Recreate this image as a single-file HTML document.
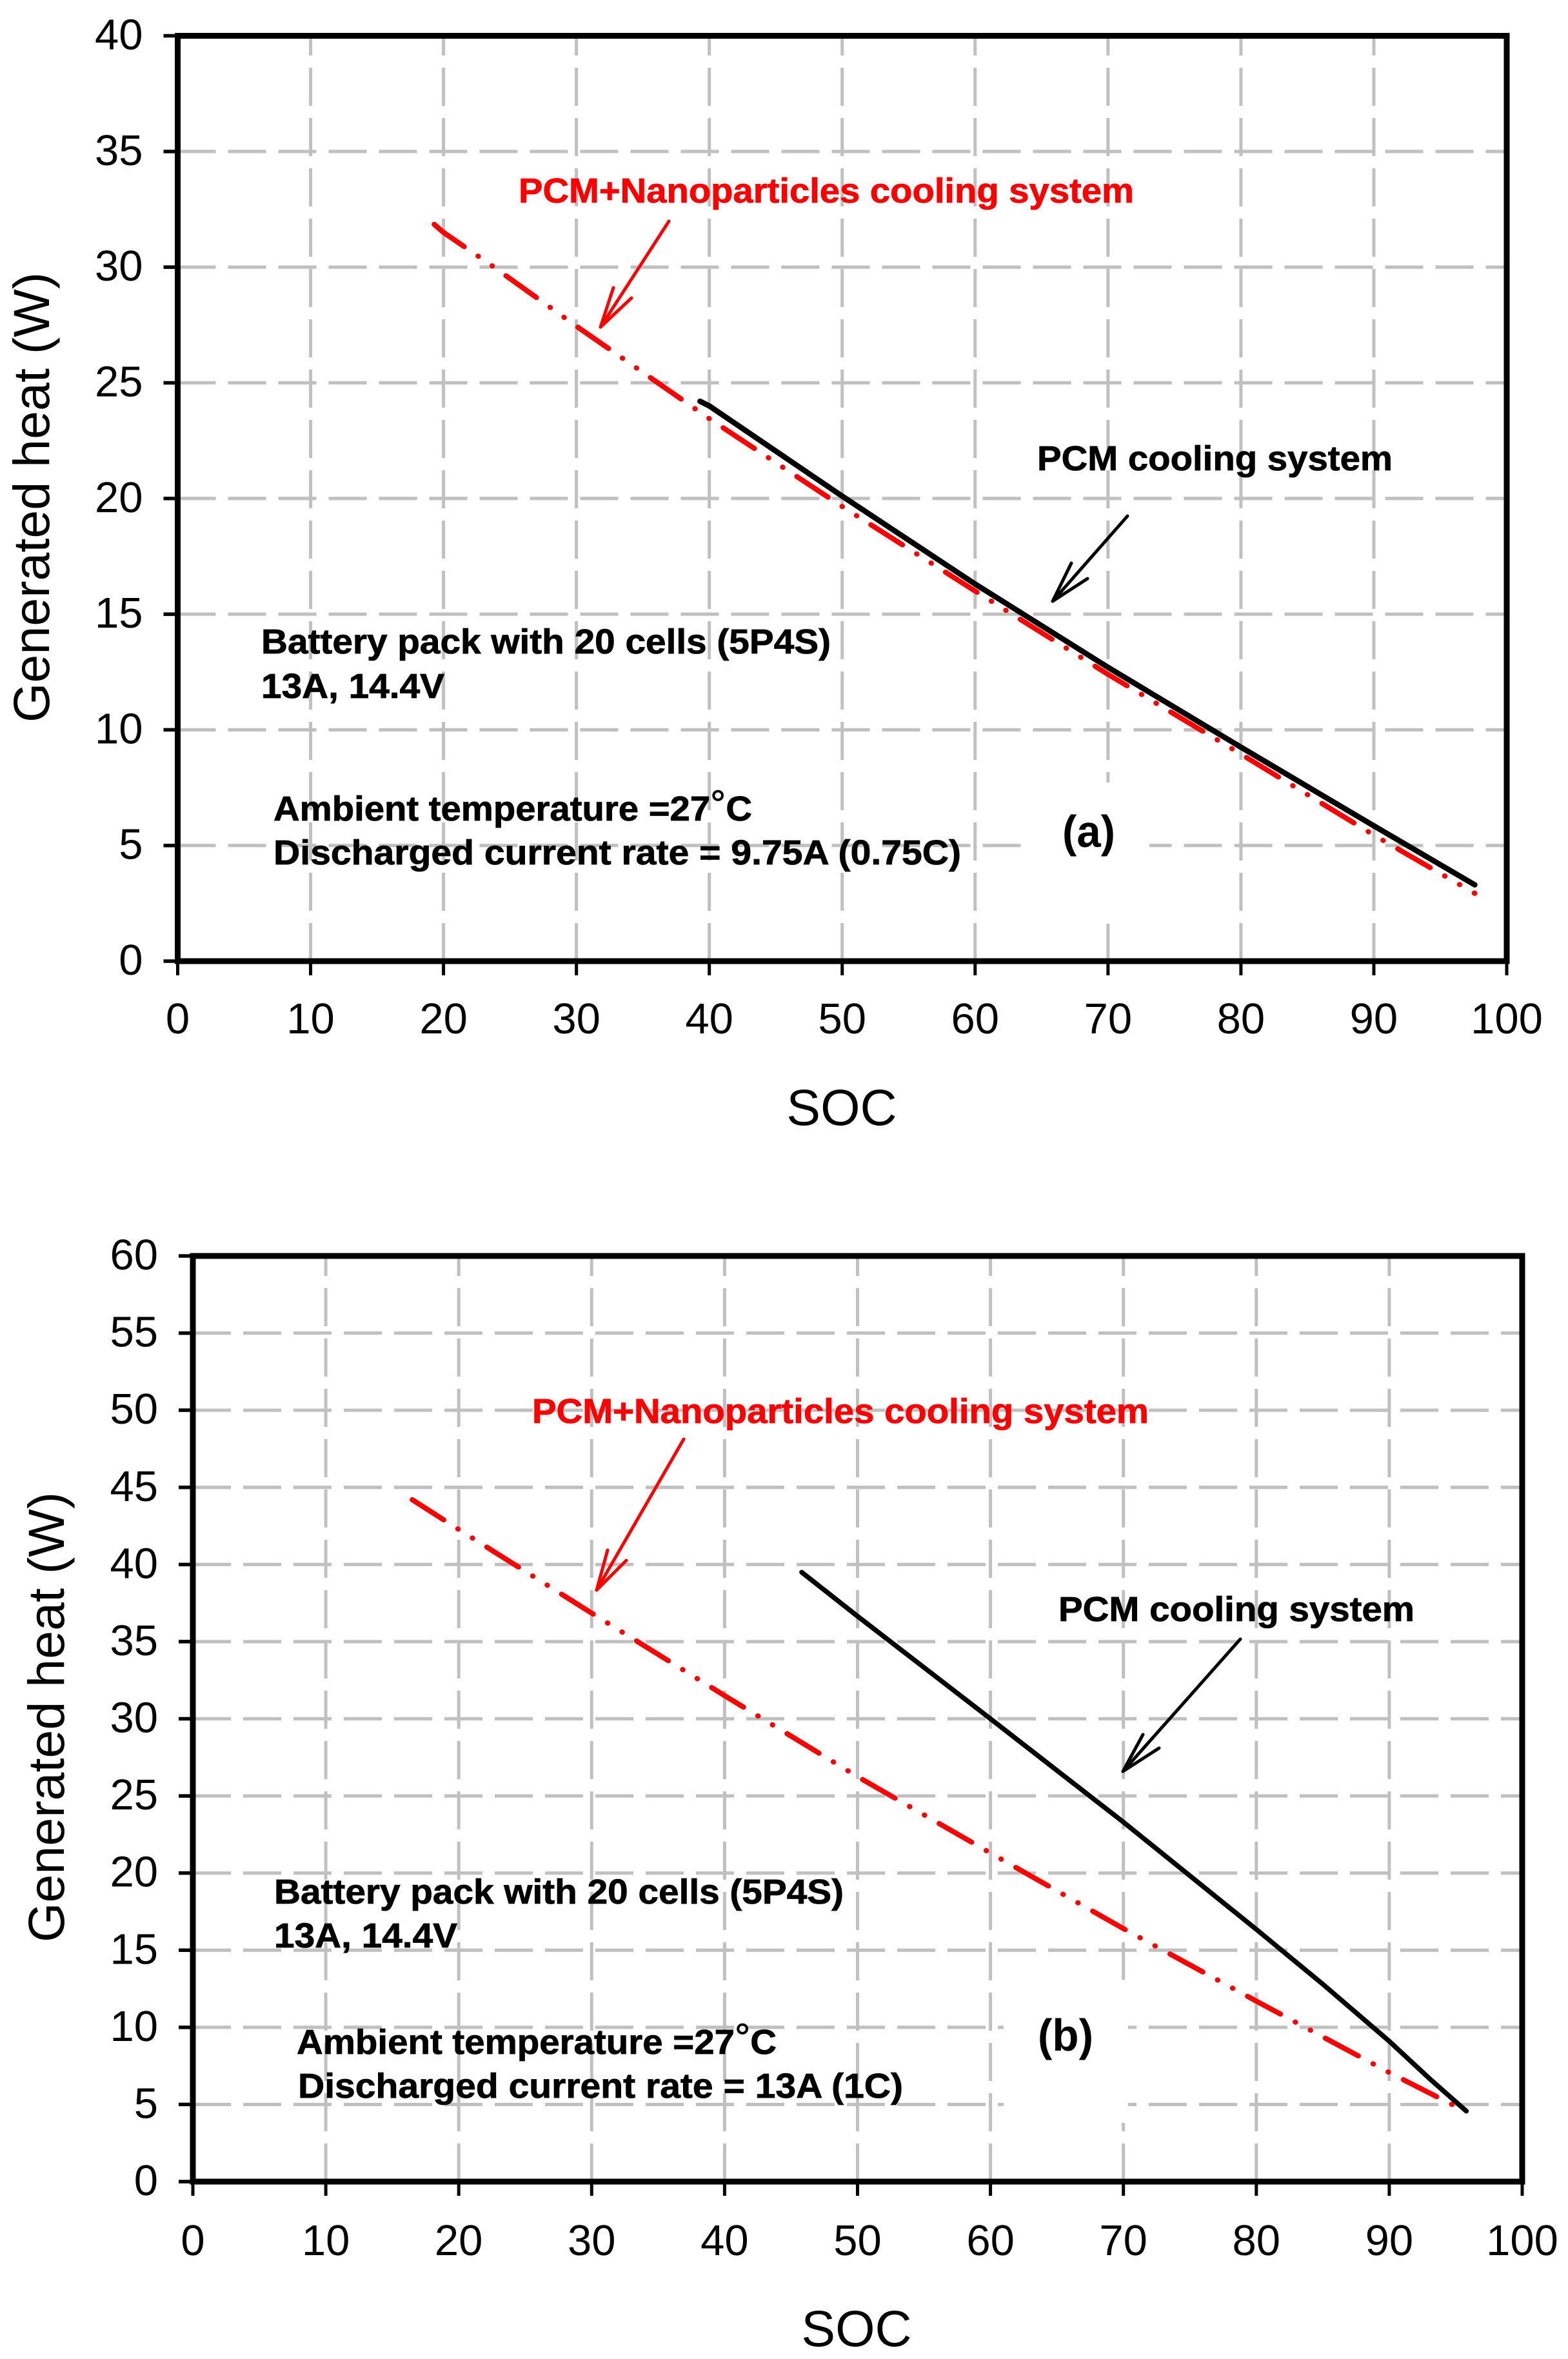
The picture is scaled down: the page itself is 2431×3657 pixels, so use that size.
<!DOCTYPE html>
<html lang="en">
<head>
<meta charset="utf-8">
<title>Generated heat vs SOC</title>
<style>
html,body{margin:0;padding:0;background:#fff;}
svg{display:block;}
text{font-family:"Liberation Sans",Arial,sans-serif;}
.note{font-weight:bold;font-size:54px;fill:#000;stroke:#000;stroke-width:0.8px;}
.note.red{fill:#ff0000;stroke:#ff0000;}
</style>
</head>
<body>
<svg id="figure" xmlns="http://www.w3.org/2000/svg" width="2431" height="3657" viewBox="0 0 2431 3657">
<rect x="0" y="0" width="2431" height="3657" fill="#ffffff"/>

<g id="panel-a"></g>
<g id="panel-b"></g>

<g>
  <text class="note red" x="804" y="314" textLength="954" lengthAdjust="spacingAndGlyphs">PCM+Nanoparticles cooling system</text>
  <g fill="none" stroke="#ff0000" stroke-width="5" stroke-linecap="round" stroke-linejoin="round">
    <path d="M1037 343L931 507"/><path d="M951 446L931 507L979 462"/>
  </g>
  <text class="note" x="1608" y="729" textLength="551" lengthAdjust="spacingAndGlyphs">PCM cooling system</text>
  <g fill="none" stroke="#000000" stroke-width="5" stroke-linecap="round" stroke-linejoin="round">
    <path d="M1748 800L1632 932"/><path d="M1661 873L1632 932L1686 897"/>
  </g>
  <text class="note" x="405" y="1013" textLength="883" lengthAdjust="spacingAndGlyphs">Battery pack with 20 cells (5P4S)</text>
  <text class="note" x="405" y="1082" textLength="284" lengthAdjust="spacingAndGlyphs">13A, 14.4V</text>
  <text class="note" x="424" y="1272" textLength="742" lengthAdjust="spacingAndGlyphs">Ambient temperature =27<tspan dy="-6" font-weight="normal" font-size="58">°</tspan><tspan dy="6">C</tspan></text>
  <text class="note" x="424" y="1340" textLength="1066" lengthAdjust="spacingAndGlyphs">Discharged current rate = 9.75A (0.75C)</text>
  <text x="1647" y="1313" font-size="70" font-weight="bold" textLength="82" lengthAdjust="spacingAndGlyphs">(a)</text>
  <text x="1305" y="1744" font-size="79" text-anchor="middle">SOC</text>
  <text transform="translate(76,1120) rotate(-90)" font-size="79" textLength="698" lengthAdjust="spacingAndGlyphs">Generated heat (W)</text>
</g>

<g>
  <text class="note red" x="825" y="2206" textLength="956" lengthAdjust="spacingAndGlyphs">PCM+Nanoparticles cooling system</text>
  <g fill="none" stroke="#ff0000" stroke-width="5" stroke-linecap="round" stroke-linejoin="round">
    <path d="M1060 2231L925 2465"/><path d="M942 2403L925 2465L971 2419"/>
  </g>
  <text class="note" x="1641" y="2513" textLength="552" lengthAdjust="spacingAndGlyphs">PCM cooling system</text>
  <g fill="none" stroke="#000000" stroke-width="5" stroke-linecap="round" stroke-linejoin="round">
    <path d="M1923 2541L1741 2746"/><path d="M1772 2689L1741 2746L1797 2710"/>
  </g>
  <text class="note" x="425" y="2951" textLength="883" lengthAdjust="spacingAndGlyphs">Battery pack with 20 cells (5P4S)</text>
  <text class="note" x="425" y="3019" textLength="284" lengthAdjust="spacingAndGlyphs">13A, 14.4V</text>
  <text class="note" x="460" y="3184" textLength="744" lengthAdjust="spacingAndGlyphs">Ambient temperature =27<tspan dy="-6" font-weight="normal" font-size="58">°</tspan><tspan dy="6">C</tspan></text>
  <text class="note" x="462" y="3252" textLength="938" lengthAdjust="spacingAndGlyphs">Discharged current rate = 13A (1C)</text>
  <text x="1609" y="3179" font-size="70" font-weight="bold" textLength="86" lengthAdjust="spacingAndGlyphs">(b)</text>
  <text x="1328" y="3637" font-size="79" text-anchor="middle">SOC</text>
  <text transform="translate(99,3011) rotate(-90)" font-size="79" textLength="698" lengthAdjust="spacingAndGlyphs">Generated heat (W)</text>
</g>
</svg>

<script>
// Shared x axis ticks (SOC)
const xTickLabels = [0, 10, 20, 30, 40, 50, 60, 70, 80, 90, 100];

// Panel (a) y axis ticks and series
const yTickLabelsA = [0, 5, 10, 15, 20, 25, 30, 35, 40];
const pcmSocA = [39.3, 40, 50, 60, 70, 80, 90, 97.6];
const pcmHeatA = [24.2, 24.0, 20.1, 16.3, 12.7, 9.25, 5.85, 3.3];
const nanoSocA = [19.3, 20, 23.8, 30, 40, 50, 60, 70, 80, 90, 97.6];
const nanoHeatA = [31.85, 31.5, 30.0, 27.45, 23.45, 19.65, 16.0, 12.4, 8.95, 5.45, 2.93];

// Panel (b) y axis ticks and series
const yTickLabelsB = [0, 5, 10, 15, 20, 25, 30, 35, 40, 45, 50, 55, 60];
const pcmSocB = [45.8, 50, 60, 70, 80, 85, 90, 93, 95.8];
const pcmHeatB = [39.5, 36.65, 30.0, 23.3, 16.35, 12.8, 9.1, 6.7, 4.57];
const nanoSocB = [16.5, 20, 30, 40, 50, 60, 70, 80, 90, 95.4];
const nanoHeatB = [44.2, 42.27, 36.85, 31.5, 26.25, 21.3, 16.4, 11.7, 7.07, 4.7];

const SVG_NS = 'http://www.w3.org/2000/svg';

function make(parent, tag, attrs) {
  const el = document.createElementNS(SVG_NS, tag);
  for (const k in attrs) el.setAttribute(k, attrs[k]);
  parent.appendChild(el);
  return el;
}

function linePath(xs, ys, sx, sy) {
  return xs.map(function (x, i) {
    return (i ? 'L' : 'M') + sx(x).toFixed(1) + ' ' + sy(ys[i]).toFixed(1);
  }).join('');
}

function drawPanel(root, frame, yTicks, pcmSoc, pcmHeat, nanoSoc, nanoHeat) {
  const xMax = xTickLabels[xTickLabels.length - 1];
  const yMax = yTicks[yTicks.length - 1];
  const sx = function (v) { return frame.left + (frame.right - frame.left) * v / xMax; };
  const sy = function (v) { return frame.bottom + (frame.top - frame.bottom) * v / yMax; };

  // Gridlines
  yTicks.forEach(function (t) {
    if (t === 0 || t === yMax) return;
    const el = make(root, 'line', { x1: frame.left, x2: frame.right, y1: sy(t), y2: sy(t), stroke: '#c0c0c0', 'stroke-width': 5.2, 'stroke-dasharray': '59 19' });
    
    
  });
  xTickLabels.forEach(function (t) {
    if (t === 0 || t === xMax) return;
    const el = make(root, 'line', { x1: sx(t), x2: sx(t), y1: frame.bottom, y2: frame.top, stroke: '#c0c0c0', 'stroke-width': 5, 'stroke-dasharray': '59 19' });
    
    
  });

  // White box behind the panel letter, hiding grid
  const mask = make(root, 'rect', { x: frame.maskX, y: frame.maskY, width: frame.maskW, height: frame.maskH, fill: '#ffffff' });
  
  

  // Series
  const nano = make(root, 'path', { d: linePath(nanoSoc, nanoHeat, sx, sy), fill: 'none', stroke: '#ff0000', 'stroke-width': 8, 'stroke-linecap': 'round', 'stroke-linejoin': 'round', 'stroke-dasharray': '58 26 0.5 26 0.5 26' });
  
  
  const pcm = make(root, 'path', { d: linePath(pcmSoc, pcmHeat, sx, sy), fill: 'none', stroke: '#000000', 'stroke-width': frame.pcmWidth, 'stroke-linecap': 'round', 'stroke-linejoin': 'round' });
  
  

  // Ticks and tick labels
  yTicks.forEach(function (t) {
    const tick = make(root, 'line', { x1: frame.left - 22, x2: frame.left, y1: sy(t), y2: sy(t), stroke: '#000', 'stroke-width': 5.5 });
    
    
    const label = make(root, 'text', { x: frame.left - 54, y: sy(t) + 21, 'font-size': 67, 'text-anchor': 'end' });
    label.textContent = t;
    
    
  });
  xTickLabels.forEach(function (t) {
    const tick = make(root, 'line', { x1: sx(t), x2: sx(t), y1: frame.bottom, y2: frame.bottom + 22, stroke: '#000', 'stroke-width': 5 });
    
    
    const label = make(root, 'text', { x: sx(t), y: frame.bottom + frame.xLabelDy, 'font-size': 67, 'text-anchor': 'middle' });
    label.textContent = t;
    
    
  });

  // Plot frame
  const box = make(root, 'rect', { x: frame.left, y: frame.top, width: frame.right - frame.left, height: frame.bottom - frame.top, fill: 'none', stroke: '#000', 'stroke-width': 9 });
  
  
}

const frameA = { left: 275.5, right: 2336, top: 55.5, bottom: 1490, xLabelDy: 112, maskX: 1586, maskY: 1213, maskW: 196, maskH: 219, pcmWidth: 8.5 };
const frameB = { left: 299, right: 2360, top: 1947, bottom: 3382, xLabelDy: 114, maskX: 1556, maskY: 3069, maskW: 193, maskH: 222, pcmWidth: 7.5 };

drawPanel(document.getElementById('panel-a'), frameA, yTickLabelsA, pcmSocA, pcmHeatA, nanoSocA, nanoHeatA);
drawPanel(document.getElementById('panel-b'), frameB, yTickLabelsB, pcmSocB, pcmHeatB, nanoSocB, nanoHeatB);
</script>
</body>
</html>
